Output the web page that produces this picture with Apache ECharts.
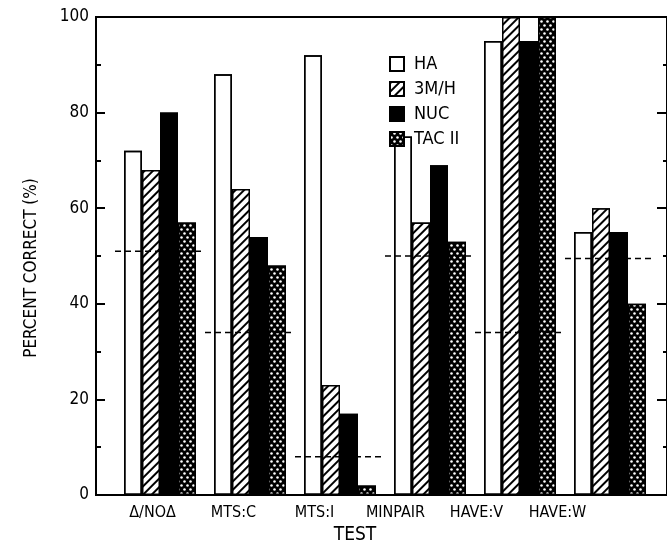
<!DOCTYPE html>
<html>
<head>
<meta charset="utf-8">
<script src="https://cdn.jsdelivr.net/npm/echarts@6/dist/echarts.min.js"></script>
<style>
  html, body { margin: 0; padding: 0; background: #fff; }
  #chart { width: 667px; height: 554px; }
</style>
</head>
<body>
<div id="chart"></div>
<script>
// test categories and percent correct per aid
const categories = ["\u0394/NO\u0394", "MTS:C", "MTS:I", "MINPAIR", "HAVE:V", "HAVE:W"];
const ha = [72, 88, 92, 75, 95, 55];
const m3h = [68, 64, 23, 57, 100, 60];
const nuc = [80, 54, 17, 69, 95, 55];
const tac = [57, 48, 2, 53, 100, 40];
// chance level per test (dashed lines)
const chance = [51, 34, 8, 50, 34, 49.5];
const seriesNames = ["HA", "3M/H", "NUC", "TAC II"];

const font = "'DejaVu Sans Condensed', 'Liberation Sans Narrow', 'DejaVu Sans', sans-serif";

const chart = echarts.init(document.getElementById("chart"), null, { renderer: "canvas" });

// decal patterns
const hatch = {
  symbol: "rect",
  color: "#000",
  backgroundColor: "#fff",
  dashArrayX: [1, 0],
  dashArrayY: [1.6, 3.4],
  rotation: -Math.PI / 4
};
const dots = {
  symbol: "circle",
  color: "#fff",
  backgroundColor: "#000",
  symbolSize: 0.85,
  dashArrayX: [[3, 3], [0, 3, 3, 0]],
  dashArrayY: [3, 0.5]
};

function barSeries(name, data, color, decal) {
  return {
    name: name,
    type: "bar",
    xAxisIndex: 1,
    yAxisIndex: 2,
    data: data,
    barWidth: 18,
    barGap: "0%",
    itemStyle: {
      color: color,
      borderColor: "#000",
      borderWidth: 1.5,
      decal: decal
    },
    emphasis: { disabled: true },
    animation: false
  };
}

chart.setOption({
  backgroundColor: "#fff",
  aria: { enabled: false, decal: { show: true } },
  textStyle: { fontFamily: font, color: "#000" },
  legend: {
    orient: "vertical",
    left: 384,
    top: 50,
    itemWidth: 14,
    itemHeight: 14,
    itemGap: 7,
    icon: "rect",
    data: seriesNames,
    textStyle: { fontFamily: font, fontSize: 18, color: "#000", padding: [0, 0, 0, 5] }
  },
  grid: [
    { left: 96, right: -2, top: 17, bottom: 59, show: true, borderColor: "#000", borderWidth: 2, backgroundColor: "transparent" },
    { left: 115, width: 540, top: 17, bottom: 59 },
    { left: 112, width: 486, top: 17, bottom: 59 }
  ],
  xAxis: [
    { gridIndex: 0, type: "value", min: 0, max: 1, show: false },
    { gridIndex: 1, type: "category", data: categories, show: false },
    {
      gridIndex: 2,
      type: "category",
      data: categories,
      axisLine: { show: false },
      axisTick: { show: false },
      axisLabel: { margin: 10, fontSize: 16, color: "#000", fontFamily: font },
      name: "TEST",
      nameLocation: "middle",
      nameGap: 25,
      nameTextStyle: { fontSize: 19, color: "#000", fontFamily: font }
    }
  ],
  yAxis: [
    {
      gridIndex: 0,
      type: "value",
      position: "left",
      min: 0,
      max: 100,
      interval: 20,
      axisLine: { show: false },
      axisTick: { inside: true, length: 9, lineStyle: { color: "#000", width: 2 } },
      minorTick: { show: true, splitNumber: 2, length: 5, lineStyle: { color: "#000", width: 2 } },
      splitLine: { show: false },
      axisLabel: { fontSize: 17, color: "#000", margin: 7, fontFamily: font },
      name: "PERCENT CORRECT (%)",
      nameLocation: "middle",
      nameGap: 56,
      nameTextStyle: { fontSize: 17, color: "#000", fontFamily: font, padding: [0, 24, 0, 0] }
    },
    {
      gridIndex: 0,
      type: "value",
      position: "right",
      min: 0,
      max: 100,
      interval: 20,
      axisLine: { show: false },
      axisTick: { inside: true, length: 10, lineStyle: { color: "#000", width: 2 } },
      minorTick: { show: true, splitNumber: 2, length: 4, lineStyle: { color: "#000", width: 2 } },
      splitLine: { show: false },
      axisLabel: { show: false }
    },
    { gridIndex: 1, type: "value", min: 0, max: 100, show: false },
    { gridIndex: 2, type: "value", min: 0, max: 100, show: false }
  ],
  series: [
    barSeries("HA", ha, "#fff", { symbol: "none" }),
    barSeries("3M/H", m3h, "#fff", hatch),
    barSeries("NUC", nuc, "#000", { symbol: "none" }),
    barSeries("TAC II", tac, "#000", dots),
    {
      name: "chance",
      type: "custom",
      xAxisIndex: 1,
      yAxisIndex: 2,
      z: 5,
      data: chance.map((v, i) => [i, v]),
      renderItem: function (params, api) {
        const p = api.coord([api.value(0), api.value(1)]);
        const w = api.size([1, 0])[0];
        return {
          type: "line",
          shape: { x1: p[0] - w / 2, y1: p[1], x2: p[0] + w / 2, y2: p[1] },
          style: { stroke: "#000", lineWidth: 1.5, lineDash: [6, 4] }
        };
      },
      animation: false
    }
  ]
});
</script>
</body>
</html>
